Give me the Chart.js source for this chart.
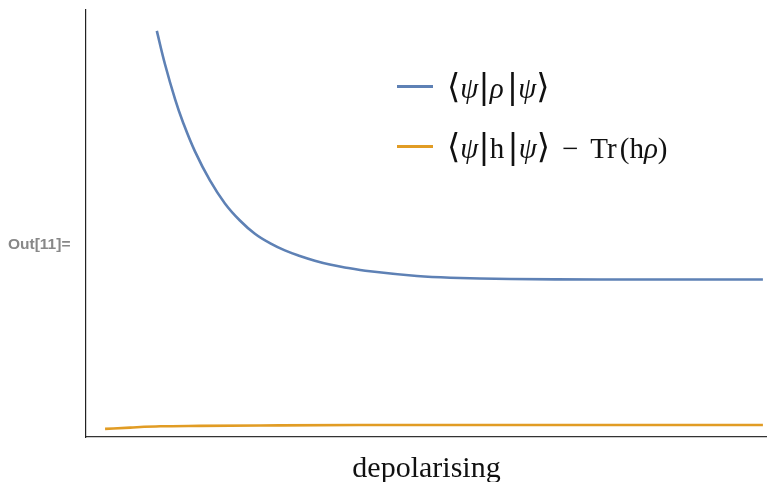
<!DOCTYPE html>
<html>
<head>
<meta charset="utf-8">
<script src="https://cdn.jsdelivr.net/npm/chart.js@4.4.1/dist/chart.umd.min.js"></script>
<style>
  body { margin: 0; background: #fff; }
  #wrap { position: relative; width: 767px; height: 482px; }
  #legend { position: absolute; left: 397px; top: 56px; font-family: "Liberation Serif", "DejaVu Serif", serif; font-size: 29px; color: #111; }
  #legend .row { display: flex; align-items: center; height: 60px; white-space: nowrap; }
  #legend .sw { width: 36px; height: 3px; margin-right: 14px; }
  #legend .br { font-size: 34px; font-family: "DejaVu Serif", serif; font-weight: 300; }
  #legend .gap { display: inline-block; width: 12px; }
  #legend .sp { display: inline-block; width: 3px; }
</style>
</head>
<body>
<div id="wrap">
  <canvas id="chart1" width="767" height="482"></canvas>
  <div id="legend"></div>
</div>
<script>
// x positions along the depolarising axis (0..1)
const blueX = [0.104, 0.116, 0.131, 0.142, 0.160, 0.182, 0.204, 0.226, 0.248, 0.270, 0.292, 0.314, 0.336, 0.358, 0.380, 0.417, 0.486, 0.535, 0.623, 0.755, 0.994];
const blueY = [0.951, 0.873, 0.790, 0.739, 0.669, 0.601, 0.547, 0.507, 0.476, 0.454, 0.437, 0.424, 0.413, 0.404, 0.397, 0.388, 0.377, 0.373, 0.370, 0.369, 0.369];

const orangeX = [0.028, 0.065, 0.109, 0.167, 0.256, 0.400, 0.600, 0.800, 0.994];
const orangeY = [0.019, 0.022, 0.025, 0.026, 0.027, 0.028, 0.028, 0.028, 0.028];

const seriesColors = ['#5E81B5', '#E19C24'];
const legendLabels = [
  '<span class="br">⟨</span><i>ψ</i><span class="br">|</span><i>ρ</i><span class="sp"></span><span class="br">|</span><i>ψ</i><span class="br">⟩</span>',
  '<span class="br">⟨</span><i>ψ</i><span class="br">|</span>h<span class="sp"></span><span class="br">|</span><i>ψ</i><span class="br">⟩</span><span class="gap"></span>&minus;<span class="gap"></span>Tr<span class="sp"></span>(h<i>ρ</i>)'
];
const xTitle = 'depolarising';

function toPoints(xs, ys) {
  return xs.map(function (x, i) { return { x: x, y: ys[i] }; });
}

// "Out[11]=" cell label on the left
const outLabel = {
  id: 'outLabel',
  afterDraw: function (chart) {
    const ctx = chart.ctx;
    ctx.save();
    ctx.font = 'bold 15.5px "Liberation Sans", Arial, sans-serif';
    ctx.fillStyle = '#888888';
    ctx.textBaseline = 'alphabetic';
    ctx.fillText('Out[11]=', 8, 249);
    ctx.restore();
  }
};

const data = {
  datasets: [{
    label: 'psi rho psi',
    data: toPoints(blueX, blueY),
    borderColor: seriesColors[0],
    borderWidth: 2.6,
    pointRadius: 0,
    tension: 0.4,
    fill: false
  }, {
    label: 'psi h psi - Tr(h rho)',
    data: toPoints(orangeX, orangeY),
    borderColor: seriesColors[1],
    borderWidth: 2.6,
    pointRadius: 0,
    cubicInterpolationMode: 'monotone',
    fill: false
  }]
};

const config = {
  type: 'line',
  data: data,
  options: {
    responsive: false,
    animation: false,
    layout: { padding: { left: 86, top: 10, right: 0, bottom: 0 } },
    plugins: { legend: { display: false }, tooltip: { enabled: false } },
    scales: {
      x: {
        type: 'linear', min: 0, max: 1,
        grid: { display: false, drawTicks: false },
        border: { display: true, color: '#333', width: 1.2 },
        ticks: { display: false },
        title: {
          display: true, text: xTitle, color: '#111',
          font: { family: '"Liberation Serif", "DejaVu Serif", serif', size: 30, lineHeight: 1 },
          padding: { top: 17, bottom: -2 }
        }
      },
      y: {
        min: 0, max: 1,
        grid: { display: false, drawTicks: false },
        border: { display: true, color: '#222', width: 1.2 },
        ticks: { display: false }
      }
    }
  },
  plugins: [outLabel]
};

const myChart = new Chart(document.getElementById('chart1'), config);

// html legend built from the datasets
var legend = document.getElementById('legend');
myChart.data.datasets.forEach(function (ds, i) {
  var row = document.createElement('div');
  row.className = 'row';
  row.innerHTML = '<div class="sw" style="background:' + ds.borderColor + '"></div><div>' + legendLabels[i] + '</div>';
  legend.appendChild(row);
});
</script>
</body>
</html>
